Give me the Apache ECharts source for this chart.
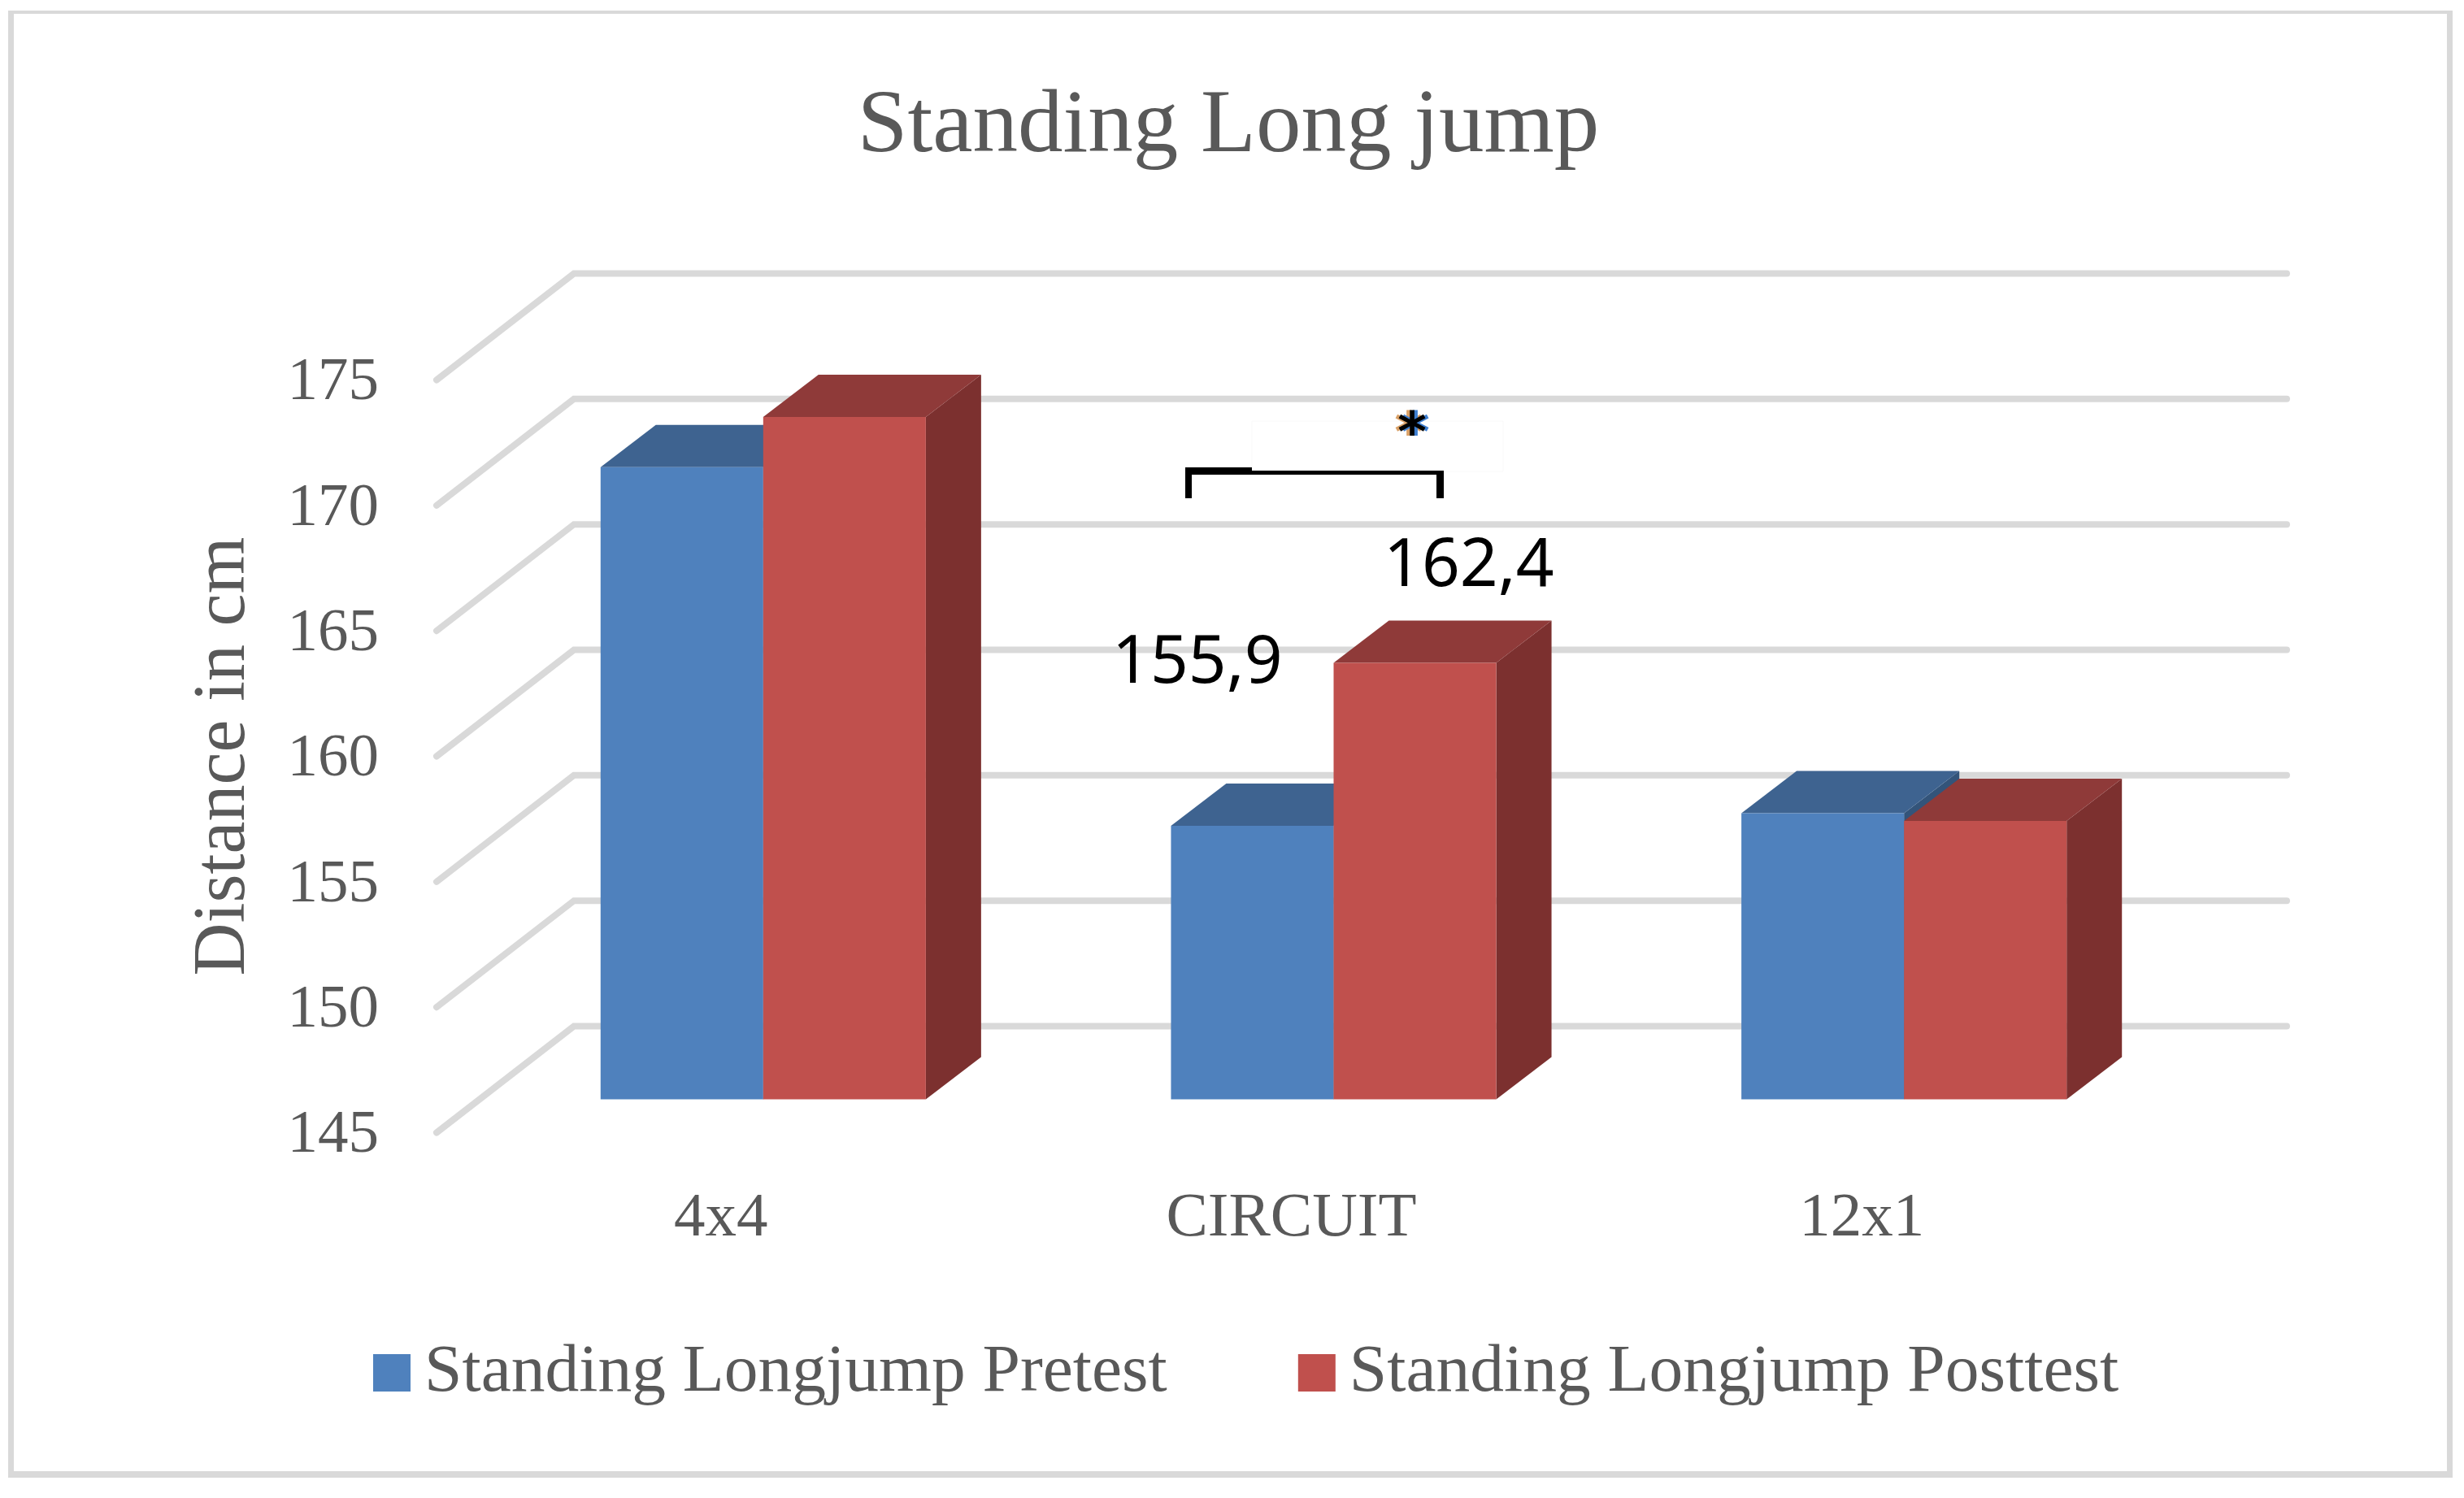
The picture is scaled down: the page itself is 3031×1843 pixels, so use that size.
<!DOCTYPE html>
<html><head><meta charset="utf-8">
<style>html,body{margin:0;padding:0;background:#fff}#c{width:3031px;height:1843px}</style>
<script src="https://cdn.jsdelivr.net/npm/echarts@6/dist/echarts.min.js"></script>
</head><body><div id="c"></div>
<script>
const titleText = 'Standing Long jump';
const yAxisName = 'Distance in cm';
const categories = ['4x4', 'CIRCUIT', '12x1'];
const pretest = [170.2, 155.9, 156.4];
const posttest = [172.2, 162.4, 156.1];
const yTicks = [145, 150, 155, 160, 165, 170, 175];
const preName = 'Standing Longjump Pretest';
const postName = 'Standing Longjump Posttest';

const SERIF = '"Liberation Serif", serif';
const TXT = '#595959';
const GRID = '#d9d9d9';
const wallDX = 170, wallDY = 131;
const barOffX = 52, barOffY = 41, depthX = 68, depthY = 52;
const barFrac = 200 / 701.5;

function gridRender(params, api) {
  const cs = params.coordSys;
  const y = api.coord([0, api.value(0)])[1];
  return { type: 'polyline', silent: true,
    shape: { points: [[cs.x + 1, y], [cs.x + wallDX, y - wallDY], [cs.x + cs.width + wallDX + 2, y - wallDY]] },
    style: { stroke: GRID, lineWidth: 8, fill: null, lineCap: 'round', lineJoin: 'miter' } };
}
function barRender(side, face, top, right) {
  return function (params, api) {
    const band = api.size([1, 0])[0];
    const w = band * barFrac;
    const cx = api.coord([api.value(0), 0])[0];
    const yT = api.coord([0, api.value(1)])[1] - barOffY;
    const yB = api.coord([0, 145])[1] - barOffY;
    const x0 = cx + barOffX + (side === 0 ? -w : 0);
    const x1 = x0 + w;
    return { type: 'group', children: [
      { type: 'polygon', shape: { points: [[x1, yT], [x1 + depthX, yT - depthY], [x1 + depthX, yB - depthY], [x1, yB]] }, style: { fill: right } },
      { type: 'polygon', shape: { points: [[x0, yT], [x0 + depthX, yT - depthY], [x1 + depthX, yT - depthY], [x1, yT]] }, style: { fill: top } },
      { type: 'rect', shape: { x: x0, y: yT, width: w, height: yB - yT }, style: { fill: face } }
    ] };
  };
}
const fmt = v => String(v).replace('.', ',');
const frameRect = (x, y, width, height) => ({ type: 'rect', z: 0, silent: true, shape: { x, y, width, height }, style: { fill: GRID } });
const star = (dx, dy, fill) => ({ type: 'text', z: 10, x: 1737 + dx, y: 537 + dy, style: { text: '*', font: 'bold 68px "DejaVu Sans"', fill, textAlign: 'center', textVerticalAlign: 'middle' } });

const chart = echarts.init(document.getElementById('c'), null, { renderer: 'canvas' });
chart.setOption({
  animation: false,
  backgroundColor: '#ffffff',
  title: { text: titleText, left: 1506, top: 96, textAlign: 'center',
    textStyle: { fontFamily: SERIF, fontSize: 111, fontWeight: 'normal', color: TXT } },
  grid: { left: 536, top: 467.5, width: 2105, height: 926, containLabel: false },
  legend: { left: 454, top: 1642, itemWidth: 46, itemHeight: 46, itemGap: 161, icon: 'rect',
    data: [preName, postName],
    textStyle: { fontFamily: SERIF, fontSize: 83.5, color: TXT, padding: [0, 0, 0, 12] } },
  xAxis: { type: 'category', data: categories,
    axisLine: { show: false }, axisTick: { show: false }, splitLine: { show: false },
    axisLabel: { fontFamily: SERIF, fontSize: 77, color: TXT, margin: 68 } },
  yAxis: { type: 'value', min: 145, max: 175, interval: 5,
    name: yAxisName, nameLocation: 'middle', nameRotate: 90, nameGap: 215,
    nameTextStyle: { fontFamily: SERIF, fontSize: 90, color: TXT },
    axisLine: { show: false }, axisTick: { show: false }, splitLine: { show: false },
    axisLabel: { fontFamily: SERIF, fontSize: 75, color: TXT, margin: 70, verticalAlign: 'top', lineHeight: 8 } },
  series: [
    { type: 'custom', name: 'grid', silent: true, z: 1, renderItem: gridRender,
      encode: { y: 0 }, data: yTicks.map(v => [v]), clip: false },
    { type: 'custom', name: preName, z: 2, clip: false, itemStyle: { color: '#4f81bd' },
      renderItem: barRender(0, '#4f81bd', '#3e6390', '#33547a'),
      encode: { x: 0, y: 1 }, data: categories.map((c, i) => [i, pretest[i]]) },
    { type: 'custom', name: postName, z: 3, clip: false, itemStyle: { color: '#c0504d' },
      renderItem: barRender(1, '#c0504d', '#8f3a39', '#7c302f'),
      encode: { x: 0, y: 1 }, data: categories.map((c, i) => [i, posttest[i]]) }
  ],
  graphic: [
    frameRect(10, 13, 3007, 4),
    frameRect(10, 1810, 3007, 8),
    frameRect(10, 13, 7, 1805),
    frameRect(3010, 13, 7, 1805),
    { type: 'rect', z: 9, silent: true, shape: { x: 1540, y: 518, width: 309, height: 62 }, style: { fill: 'none', stroke: '#f9f9f9', lineWidth: 1 } },
    { type: 'text', z: 10, x: 1368, y: 817, style: { text: fmt(pretest[1]), font: '82px "Noto Sans"', fill: '#000', textVerticalAlign: 'middle' } },
    { type: 'text', z: 10, x: 1702, y: 698, style: { text: fmt(posttest[1]), font: '82px "Noto Sans"', fill: '#000', textVerticalAlign: 'middle' } },
    { type: 'rect', z: 10, shape: { x: 1458, y: 579, width: 318, height: 5 }, style: { fill: '#000' } },
    { type: 'rect', z: 10, shape: { x: 1458, y: 575, width: 82, height: 8 }, style: { fill: '#000' } },
    { type: 'rect', z: 10, shape: { x: 1458, y: 577, width: 8, height: 36 }, style: { fill: '#000' } },
    { type: 'rect', z: 10, shape: { x: 1767, y: 579, width: 9, height: 34 }, style: { fill: '#000' } },
    star(-4, 0, '#d9a066'), star(4, 0, '#3f7fd0'), star(0, 0, '#000')
  ]
});
</script></body></html>
